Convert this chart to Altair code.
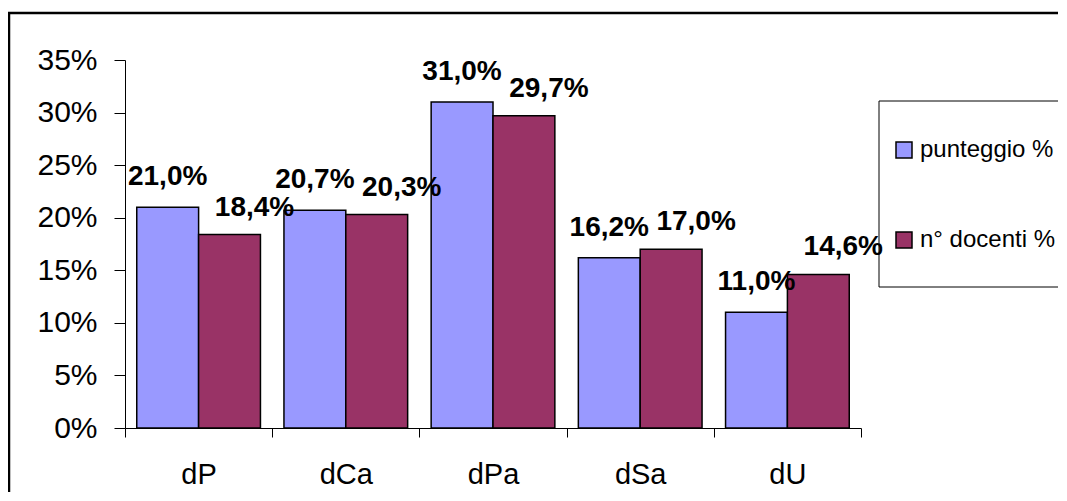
import altair as alt
import pandas as pd

categories = ["dP", "dCa", "dPa", "dSa", "dU"]
series = ["punteggio %", "n° docenti %"]
punteggio = [21.0, 20.7, 31.0, 16.2, 11.0]
docenti = [18.4, 20.3, 29.7, 17.0, 14.6]
colors = ["#9999FF", "#993366"]
y_ticks = [0, 0.05, 0.10, 0.15, 0.20, 0.25, 0.30, 0.35]

rows = []
for s, vals in zip(series, [punteggio, docenti]):
    for c, v in zip(categories, vals):
        rows.append({"cat": c, "serie": s, "val": v / 100,
                     "lab": f"{v:.1f}%".replace(".", ",")})
df = pd.DataFrame(rows)
one = pd.DataFrame({"a": [0]})

FONT = "Liberation Sans"

x_enc = alt.X("cat:N", sort=categories,
              scale=alt.Scale(paddingInner=0, paddingOuter=0),
              axis=alt.Axis(title=None, labelAngle=0, tickBand="extent", tickSize=9,
                            labelPadding=23, labelFontSize=29, labelFont=FONT,
                            labelColor="black", tickColor="black", domainColor="black",
                            domainWidth=1, tickWidth=1, grid=False))
xo_enc = alt.XOffset("serie:N", sort=series,
                     scale=alt.Scale(domain=series, paddingInner=0, paddingOuter=0.19))
y_enc = alt.Y("val:Q", scale=alt.Scale(domain=[0, 0.35], nice=False),
              axis=alt.Axis(title=None, values=y_ticks, format=".0%", grid=False,
                            tickSize=11, labelPadding=17, labelFontSize=30,
                            labelFont=FONT, labelColor="black", tickColor="black",
                            domainColor="black", domainWidth=1, tickWidth=1))

bars = alt.Chart(df).mark_bar(stroke="black", strokeWidth=1.5).encode(
    x=x_enc, xOffset=xo_enc, y=y_enc,
    color=alt.Color("serie:N", sort=series,
                    scale=alt.Scale(domain=series, range=colors),
                    legend=alt.Legend(orient="none", legendX=767, legendY=78, title=None,
                                      symbolType="square", symbolSize=256,
                                      symbolStrokeColor="black", symbolStrokeWidth=1.5,
                                      labelFontSize=24, labelFont=FONT, labelColor="black",
                                      rowPadding=66, labelOffset=4, padding=0,
                                      labelLimit=300)))

lab_blue = alt.Chart(df).transform_filter(alt.datum.serie == series[0]).mark_text(
    dx=0, dy=-30, baseline="middle", fontWeight="bold", fontSize=28, font=FONT,
    color="black").encode(x=x_enc, xOffset=xo_enc, y=y_enc, text="lab:N")
lab_red = alt.Chart(df).transform_filter(alt.datum.serie == series[1]).mark_text(
    dx=25, dy=-27, baseline="middle", fontWeight="bold", fontSize=28, font=FONT,
    color="black").encode(x=x_enc, xOffset=xo_enc, y=y_enc, text="lab:N")

legend_box = alt.Chart(one).mark_rect(fillOpacity=0, stroke="black", strokeWidth=1).encode(
    x=alt.value(754), x2=alt.value(970), y=alt.value(41), y2=alt.value(227))

frame_left = alt.Chart(one).mark_rule(color="black", strokeWidth=2.5).encode(
    x=alt.value(-116), y=alt.value(-47), y2=alt.value(460))
frame_top = alt.Chart(one).mark_rule(color="black", strokeWidth=2.5).encode(
    x=alt.value(-117), x2=alt.value(970), y=alt.value(-47))

chart = alt.layer(bars, lab_blue, lab_red, legend_box, frame_left, frame_top).properties(
    width=736, height=368,
    autosize=alt.AutoSizeParams(type="none"),
    padding={"left": 117, "top": 52, "right": 197, "bottom": 64},
    background="white",
).configure_view(stroke=None, fill="white")

chart.save("out.html", embed_options={"renderer": "svg", "actions": False})
